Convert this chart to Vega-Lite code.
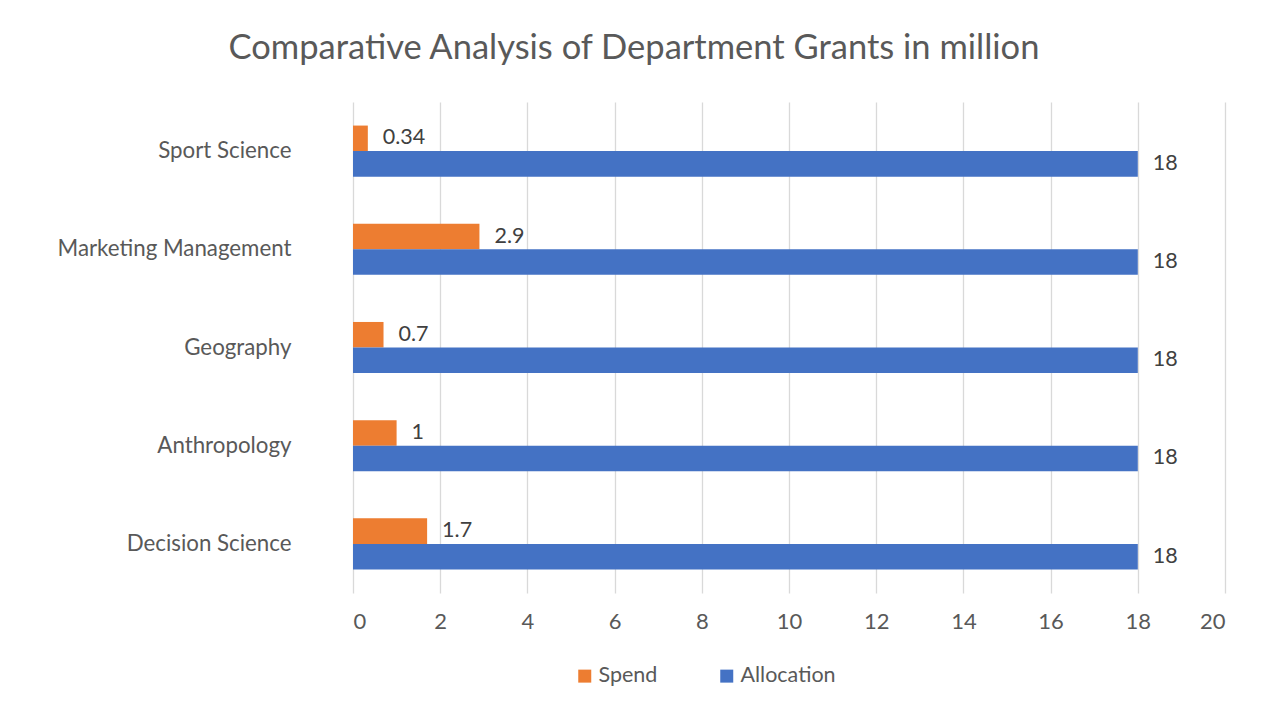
{
  "$schema": "https://vega.github.io/schema/vega-lite/v6.json",
  "width": 872,
  "height": 491,
  "autosize": {"type": "none"},
  "padding": {"left": 353, "top": 102, "right": 39, "bottom": 122},
  "background": "white",
  "title": {
    "text": "Comparative Analysis of Department Grants in million",
    "font": "Lato",
    "fontSize": 34.5,
    "fontWeight": "normal",
    "color": "#595959",
    "anchor": "middle",
    "frame": "group",
    "dx": -155,
    "offset": 36
  },
  "data": {
    "values": [
      {"dept": "Sport Science", "series": "Spend", "value": 0.34},
      {"dept": "Sport Science", "series": "Allocation", "value": 18},
      {"dept": "Marketing Management", "series": "Spend", "value": 2.9},
      {"dept": "Marketing Management", "series": "Allocation", "value": 18},
      {"dept": "Geography", "series": "Spend", "value": 0.7},
      {"dept": "Geography", "series": "Allocation", "value": 18},
      {"dept": "Anthropology", "series": "Spend", "value": 1},
      {"dept": "Anthropology", "series": "Allocation", "value": 18},
      {"dept": "Decision Science", "series": "Spend", "value": 1.7},
      {"dept": "Decision Science", "series": "Allocation", "value": 18}
    ]
  },
  "encoding": {
    "y": {
      "field": "dept",
      "type": "nominal",
      "sort": ["Sport Science", "Marketing Management", "Geography", "Anthropology", "Decision Science"],
      "scale": {"paddingInner": 0.48, "paddingOuter": 0.24},
      "axis": {
        "title": null,
        "domain": false,
        "ticks": false,
        "grid": false,
        "labelFont": "Lato",
        "labelFontSize": 22.3,
        "labelColor": "#595959",
        "labelPadding": 62,
        "labelLimit": 400
      }
    },
    "yOffset": {"field": "series", "type": "nominal", "sort": ["Spend", "Allocation"]},
    "x": {
      "field": "value",
      "type": "quantitative",
      "scale": {"domain": [0, 20], "nice": false},
      "axis": {
        "title": null,
        "values": [0, 2, 4, 6, 8, 10, 12, 14, 16, 18, 20],
        "domain": false,
        "ticks": false,
        "grid": true,
        "gridColor": "#D9D9D9",
        "gridWidth": 1.3,
        "labelFont": "Lato",
        "labelFontSize": 22,
        "labelColor": "#595959",
        "labelPadding": 18
      }
    }
  },
  "layer": [
    {
      "mark": {"type": "bar"},
      "encoding": {
        "color": {
          "field": "series",
          "type": "nominal",
          "scale": {"domain": ["Spend", "Allocation"], "range": ["#ED7D31", "#4472C4"]},
          "legend": {
            "title": null,
            "orient": "none",
            "legendX": 221,
            "legendY": 563,
            "direction": "horizontal",
            "symbolType": "square",
            "symbolSize": 169,
            "symbolStrokeWidth": 0,
            "labelFont": "Lato",
            "labelFontSize": 21.5,
            "labelColor": "#595959",
            "labelOffset": 3,
            "columnPadding": 58
          }
        }
      }
    },
    {
      "mark": {"type": "text", "align": "left", "baseline": "middle", "dx": 15, "font": "Lato", "fontSize": 21.5, "color": "#404040"},
      "encoding": {"text": {"field": "value", "type": "nominal"}}
    }
  ],
  "config": {"view": {"stroke": null}}
}
